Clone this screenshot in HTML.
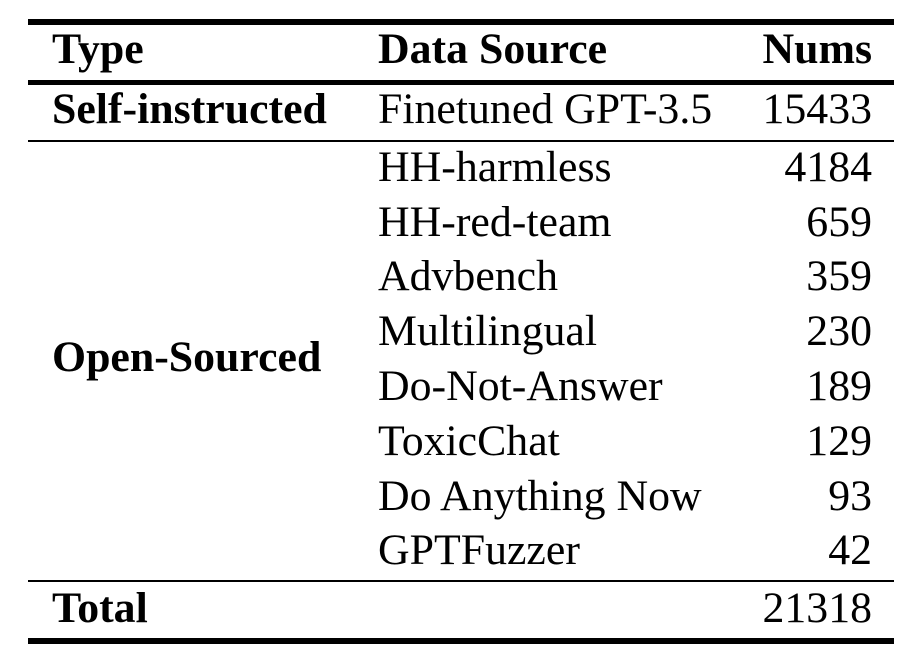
<!DOCTYPE html>
<html><head><meta charset="utf-8"><style>
html,body{margin:0;padding:0;background:#fff;}
svg{display:block;}
text{font-family:"Liberation Serif",serif;font-size:43.8px;fill:#000;}
.b{font-weight:bold;}
</style></head><body>
<svg width="919" height="659" viewBox="0 0 919 659">
<rect x="28" y="19" width="866" height="6" fill="#000"/>
<rect x="28" y="80" width="866" height="5" fill="#000"/>
<rect x="28" y="140" width="866" height="2" fill="#000"/>
<rect x="28" y="580" width="866" height="2" fill="#000"/>
<rect x="28" y="638" width="866" height="6" fill="#000"/>
<text class="b" x="52" y="63">Type</text>
<text class="b" x="378" y="63">Data Source</text>
<text class="b" x="872" y="63" text-anchor="end">Nums</text>
<text class="b" x="52" y="123">Self-instructed</text>
<text x="378" y="123">Finetuned GPT-3.5</text>
<text x="872" y="123" text-anchor="end">15433</text>
<text class="b" x="52" y="371">Open-Sourced</text>
<text x="378" y="181">HH-harmless</text>
<text x="872" y="181" text-anchor="end">4184</text>
<text x="378" y="236">HH-red-team</text>
<text x="872" y="236" text-anchor="end">659</text>
<text x="378" y="290">Advbench</text>
<text x="872" y="290" text-anchor="end">359</text>
<text x="378" y="345">Multilingual</text>
<text x="872" y="345" text-anchor="end">230</text>
<text x="378" y="400">Do-Not-Answer</text>
<text x="872" y="400" text-anchor="end">189</text>
<text x="378" y="455">ToxicChat</text>
<text x="872" y="455" text-anchor="end">129</text>
<text x="378" y="510">Do Anything Now</text>
<text x="872" y="510" text-anchor="end">93</text>
<text x="378" y="564">GPTFuzzer</text>
<text x="872" y="564" text-anchor="end">42</text>
<text class="b" x="52" y="622">Total</text>
<text x="872" y="622" text-anchor="end">21318</text>
</svg>
</body></html>
